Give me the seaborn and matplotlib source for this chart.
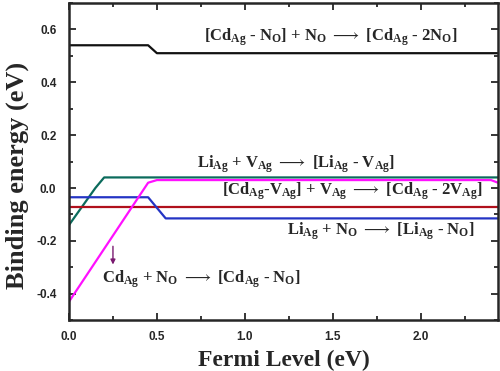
import numpy as np
import pandas as pd
import matplotlib
matplotlib.use("Agg")
import matplotlib.pyplot as plt
from matplotlib.ticker import MultipleLocator
import seaborn as sns

# data (Fermi level, binding energy)
cdno_x = [0.0, 0.45, 0.50, 2.44]
cdno_y = [0.54, 0.54, 0.51, 0.51]

livag_x = [0.0, 0.15, 0.20, 2.44]
livag_y = [-0.14, 0.0, 0.04, 0.04]

cdn_x = [0.0, 0.45, 0.50, 2.40, 2.44]
cdn_y = [-0.43, 0.02, 0.03, 0.03, 0.02]

lino_x = [0.0, 0.45, 0.55, 2.44]
lino_y = [-0.035, -0.035, -0.115, -0.115]

cdv_x = [0.0, 2.44]
cdv_y = [-0.072, -0.072]

xticks = [0.0, 0.5, 1.0, 1.5, 2.0]
yticks = [-0.4, -0.2, 0.0, 0.2, 0.4, 0.6]

series = [
    ("cdno", cdno_x, cdno_y, "#111111"),
    ("livag", livag_x, livag_y, "#0b6b5c"),
    ("cdv", cdv_x, cdv_y, "#b0101c"),
    ("lino", lino_x, lino_y, "#2434c4"),
    ("cdn", cdn_x, cdn_y, "#ff10ff"),
]

sns.set_style("ticks")
plt.rcParams['font.family'] = ['Liberation Serif', 'DejaVu Sans']
plt.rcParams['mathtext.fontset'] = 'custom'
plt.rcParams['mathtext.rm'] = 'Liberation Serif:bold'
plt.rcParams['mathtext.it'] = 'Liberation Serif:bold'
plt.rcParams['mathtext.bf'] = 'Liberation Serif:bold'

fig = plt.figure(figsize=(5, 3.71), dpi=100)
ax = fig.add_axes([0.138, 0.137, 0.858, 0.855])

for name, xs, ys, col in series:
    df = pd.DataFrame({'x': xs, 'y': ys})
    sns.lineplot(data=df, x='x', y='y', ax=ax, color=col, lw=1.6, sort=False)

ax.set_xlim(0, 2.44)
ax.set_ylim(-0.5, 0.7)
ax.set_xticks(xticks)
ax.set_yticks(yticks)
ax.set_xticklabels([f'{v:.1f}' for v in xticks], fontfamily='Liberation Sans',
                   fontweight='bold')
ax.set_yticklabels([f'{v:.1f}' for v in yticks], fontfamily='Liberation Sans',
                   fontweight='bold')
ax.xaxis.set_minor_locator(MultipleLocator(0.25))
ax.yaxis.set_minor_locator(MultipleLocator(0.1))
ax.tick_params(which='both', direction='in', top=True, right=True, width=1.3,
               labelsize=8.5)
ax.tick_params(which='major', length=5)
ax.tick_params(which='minor', length=3)
ax.tick_params(axis='y', pad=9)
ax.tick_params(axis='x', pad=8)
for s in ax.spines.values():
    s.set_linewidth(1.8)

ax.set_xlabel('Fermi Level (eV)', fontsize=17, fontweight='bold', labelpad=5)
ax.set_ylabel('Binding energy (eV)', fontsize=19, fontweight='bold')
ax.yaxis.set_label_coords(-0.094, 0.457)

arr = r'$\longrightarrow$'
labels = [
    (0.77, 0.558, r'[Cd$_{\rm Ag}$ - N$_{\rm O}$] + N$_{\rm O}$ ' + arr + r' [Cd$_{\rm Ag}$ - 2N$_{\rm O}$]'),
    (0.73, 0.079, r'Li$_{\rm Ag}$ + V$_{\rm Ag}$ ' + arr + r' [Li$_{\rm Ag}$ - V$_{\rm Ag}$]'),
    (0.87, -0.026, r'[Cd$_{\rm Ag}$-V$_{\rm Ag}$] + V$_{\rm Ag}$ ' + arr + r' [Cd$_{\rm Ag}$ - 2V$_{\rm Ag}$]'),
    (1.24, -0.177, r'Li$_{\rm Ag}$ + N$_{\rm O}$ ' + arr + r' [Li$_{\rm Ag}$ - N$_{\rm O}$]'),
    (0.19, -0.358, r'Cd$_{\rm Ag}$ + N$_{\rm O}$ ' + arr + r' [Cd$_{\rm Ag}$ - N$_{\rm O}$]'),
]
for x, y, t in labels:
    ax.text(x, y, t, fontsize=12, fontweight='bold', ha='left', va='baseline')

ax.annotate('', xy=(0.25, -0.30), xytext=(0.25, -0.21),
            arrowprops=dict(arrowstyle='-|>', color='#7a1a70', lw=1.0,
                            mutation_scale=7))

fig.savefig('out.png', dpi=100)
